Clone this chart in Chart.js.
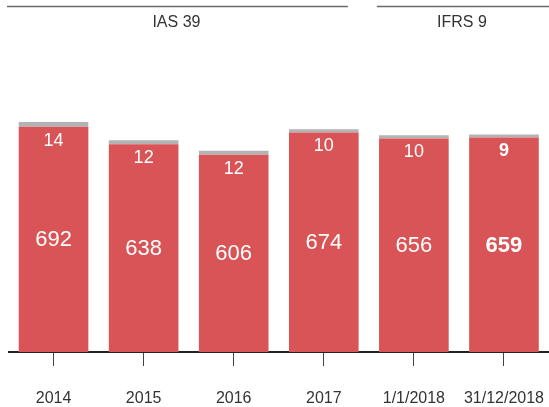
<!DOCTYPE html>
<html>
<head>
<meta charset="utf-8">
<script src="https://cdn.jsdelivr.net/npm/chart.js@4"></script>
<style>
  html, body { margin: 0; padding: 0; background: #fff; overflow: hidden; }
  canvas { display: block; }
</style>
</head>
<body>
<canvas id="myChart" width="549" height="407"></canvas>
<script>
// === Daten ===
const categories = ['2014', '2015', '2016', '2017', '1/1/2018', '31/12/2018'];
const mainValues = [692, 638, 606, 674, 656, 659];
const topValues = [14, 12, 12, 10, 10, 9];
const groups = [
    { label: 'IAS 39', from: 0, to: 3 },
    { label: 'IFRS 9', from: 4, to: 5 }
];

const red = '#d85456';
const grey = '#b3b3b6';
const fontFamily = "'Liberation Sans', Arial, sans-serif";

// === Beschriftungen in den Balken + Kopfzeile ===
const labelPlugin = {
    id: 'labelPlugin',
    afterDatasetsDraw(chart) {
        const ctx = chart.ctx;
        const mainMeta = chart.getDatasetMeta(0);
        ctx.save();
        ctx.fillStyle = '#fff';
        ctx.textAlign = 'center';
        ctx.textBaseline = 'middle';
        mainMeta.data.forEach((bar, i) => {
            const bold = i === categories.length - 1 ? 'bold ' : '';
            // grosse Zahl mittig im roten Balken
            ctx.font = bold + '22px ' + fontFamily;
            ctx.fillText(String(mainValues[i]), bar.x, (bar.y + bar.base) / 2 + 1);
            // kleine Zahl knapp unter der Oberkante
            ctx.font = bold + '18px ' + fontFamily;
            ctx.fillText(String(topValues[i]), bar.x, bar.y + 14);
        });

        // Kopfzeile mit Gruppen
        const x = chart.scales.x;
        const half = (x.getPixelForValue(1) - x.getPixelForValue(0)) / 2;
        groups.forEach((g, gi) => {
            const left = gi === 0 ? 7 : x.getPixelForValue(g.from) - half + 8;
            const right = gi === groups.length - 1 ? chart.width : x.getPixelForValue(g.to) + half - 21;
            ctx.strokeStyle = '#6a6a6a';
            ctx.lineWidth = 1.5;
            ctx.beginPath();
            ctx.moveTo(left, 6.5);
            ctx.lineTo(right, 6.5);
            ctx.stroke();
            ctx.fillStyle = '#333';
            ctx.font = '16px ' + fontFamily;
            ctx.fillText(g.label, (left + right) / 2 - 1, 23);
        });
        ctx.restore();
    }
};

const myChart = new Chart(document.getElementById('myChart'), {
    type: 'bar',
    data: {
        labels: categories,
        datasets: [
            { label: 'main', data: mainValues, backgroundColor: red, barPercentage: 0.773, categoryPercentage: 1 },
            { label: 'top', data: topValues, backgroundColor: grey, barPercentage: 0.773, categoryPercentage: 1 }
        ]
    },
    options: {
        responsive: false,
        animation: false,
        devicePixelRatio: 1,
        layout: { padding: { top: 91.5, left: 8.5, right: -3, bottom: 0 } },
        plugins: {
            legend: { display: false },
            tooltip: { enabled: false }
        },
        scales: {
            x: {
                stacked: true,
                grid: { display: true, offset: false, drawOnChartArea: false, drawTicks: true, tickLength: 14, color: '#444' },
                border: { display: true, color: '#222', width: 2 },
                ticks: { color: '#333', padding: 4, font: { size: 16, family: fontFamily, lineHeight: 3.55 } },
                afterFit: (scale) => { scale.height = 55; }
            },
            y: {
                stacked: true,
                display: false,
                min: 0,
                max: 800
            }
        }
    },
    plugins: [labelPlugin]
});
</script>
</body>
</html>
